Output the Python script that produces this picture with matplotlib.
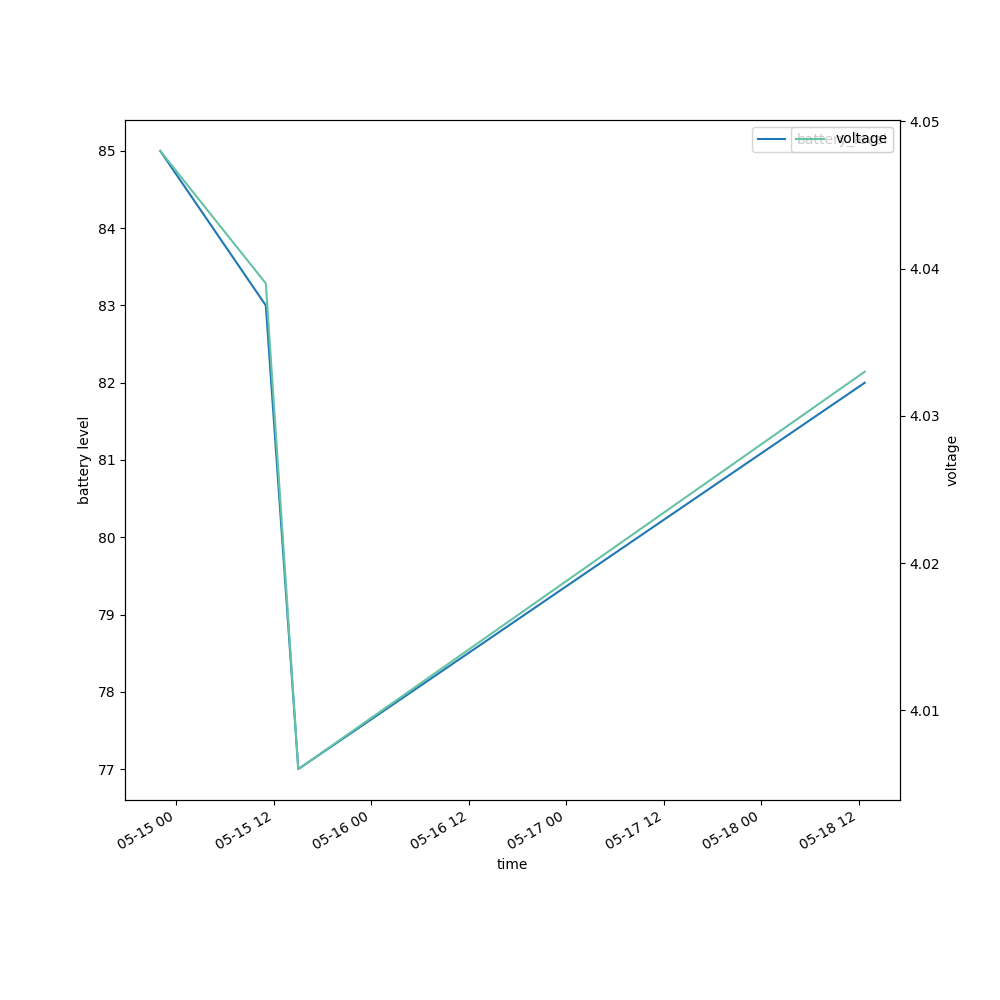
import pandas as pd
import matplotlib.pyplot as plt
import matplotlib.dates as mdates

# readings
times = pd.to_datetime(['2023-05-14 22:00', '2023-05-15 11:00', '2023-05-15 15:00', '2023-05-18 12:45'])
battery_level = [85, 83, 77, 82]
voltage = [4.048, 4.039, 4.006, 4.033]

fig, ax1 = plt.subplots(figsize=(10, 10), dpi=100)
ax1.plot(times, battery_level, color='#1f77b4', label='battery_level')
ax1.set_xlabel('time')
ax1.set_ylabel('battery level')
ax1.legend(loc='upper right')

ax2 = ax1.twinx()
ax2.plot(times, voltage, color='#66c2a5', label='voltage')
ax2.set_ylabel('voltage')
ax2.legend(loc='upper right')

ax1.xaxis.set_major_locator(mdates.HourLocator(byhour=[0, 12]))
ax1.xaxis.set_major_formatter(mdates.DateFormatter('%m-%d %H'))
fig.autofmt_xdate()

plt.savefig('out.png')
